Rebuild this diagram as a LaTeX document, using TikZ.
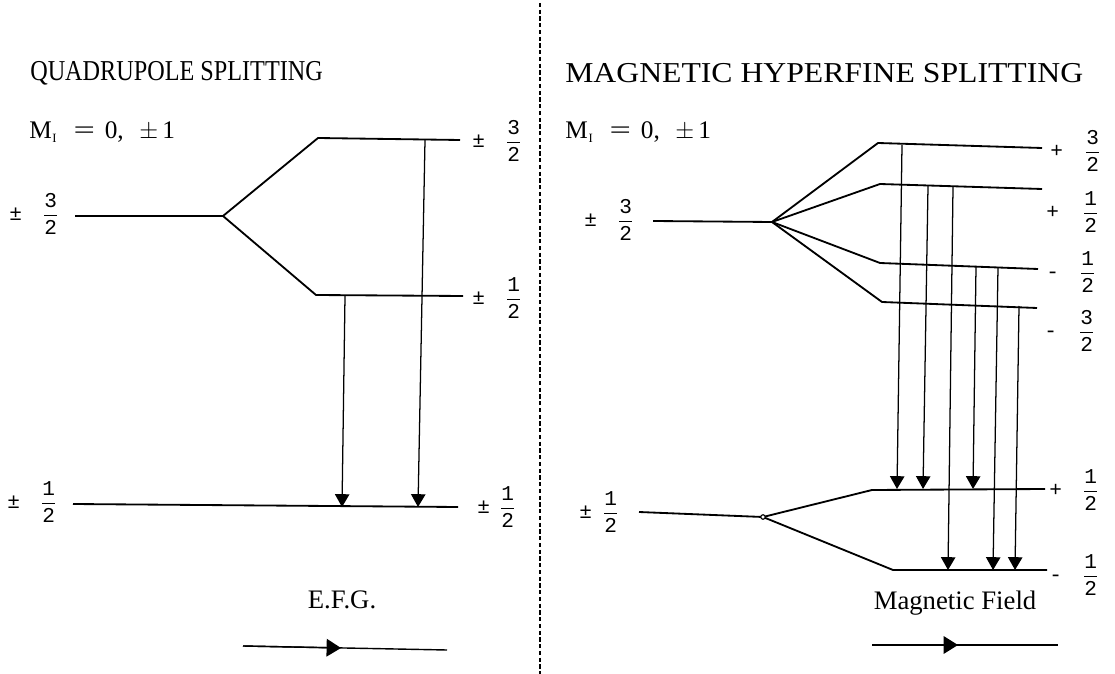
\documentclass[tikz,border=0pt]{standalone}
\usepackage{amsmath}
\usepackage{fontspec}
\setmainfont{Liberation Serif}
\setmonofont{Liberation Mono}
\usetikzlibrary{arrows.meta}
\tikzset{
  level/.style={line width=1.3pt,line join=round},
  trans/.style={line width=.9pt,-{Triangle[length=3.2mm,width=3.6mm]}},
  field/.style={line width=1pt},
  fieldtip/.style={field,-{Triangle[length=3.6mm,width=4.4mm]}},
  spin/.style={inner sep=0pt,anchor=west,font=\ttfamily\fontsize{15}{18}\selectfont},
  heading/.style={inner sep=0pt,anchor=west,font=\fontsize{20.5}{24}\selectfont},
  caption/.style={inner sep=0pt,font=\fontsize{19}{22}\selectfont},
  divider/.style={line width=1pt,dash pattern=on 3pt off 1.8pt}
}
\newcommand{\spinfrac}[2]{$\dfrac{\mbox{\ttfamily #1}}{\mbox{\ttfamily #2}}$}
\newcommand{\spinlabel}[4]{#1\hspace{#2}\spinfrac{#3}{#4}}
\newcommand{\mione}{M\kern.5pt\raisebox{-3pt}{\fontsize{9}{10}\selectfont I}%
  \hspace{12pt}\scalebox{1.5}[1]{=}\hspace{7pt}0,\hspace{11pt}$\pm$\hspace{3pt}1}

\begin{document}
\begin{tikzpicture}[x=0.025cm,y=-0.025cm]
  \useasboundingbox (0,0) rectangle (1115,674);

  % Quadrupole splitting, left half.
  \node[heading] (qtitle) at (30,73) {\scalebox{.84}[1]{QUADRUPOLE SPLITTING}};
  \node[caption,anchor=west,font=\fontsize{18}{21}\selectfont] (qmi) at (29,132) {\mione};

  \coordinate (q32a) at (75,216);
  \coordinate (q32s) at (223,216);
  \coordinate (q32u) at (318,138);
  \coordinate (q32ue) at (460,140);
  \coordinate (q12u) at (316,295);
  \coordinate (q12ue) at (463,296);
  \coordinate (q12a) at (73,504);
  \coordinate (q12e) at (458,507);
  \draw[level] (q32a) -- (q32s) -- (q32u) -- (q32ue);
  \draw[level] (q32s) -- (q12u) -- (q12ue);
  \draw[level] (q12a) -- (q12e);

  \node[spin] (lq32) at (9,214) {\spinlabel{±}{14.7pt}{3}{2}};
  \node[spin] (lq12) at (7,502) {\spinlabel{±}{14.7pt}{1}{2}};
  \node[spin] (rq32) at (472,141) {\spinlabel{±}{14.7pt}{3}{2}};
  \node[spin] (rq12) at (472,298) {\spinlabel{±}{14.7pt}{1}{2}};
  \node[spin] (rq12b) at (477,507) {\spinlabel{±}{6.9pt}{1}{2}};

  \coordinate (qt1a) at (345,296);
  \coordinate (qt1b) at (342,507);
  \coordinate (qt2a) at (425,140);
  \coordinate (qt2b) at (418,507);
  \draw[trans] (qt1a) -- (qt1b);
  \draw[trans] (qt2a) -- (qt2b);

  \node[caption] (efg) at (342,600) {E.F.G.};
  \coordinate (efga) at (243,646);
  \coordinate (efgm) at (341,648);
  \coordinate (efgb) at (447,650);
  \draw[field] (efga) -- (efgb);
  \draw[fieldtip] (efga) -- (efgm);

  % Dashed divider between the two halves.
  \coordinate (divtop) at (540,3);
  \coordinate (divbot) at (540,674);
  \draw[divider] (divtop) -- (divbot);

  % Magnetic hyperfine splitting, right half.
  \node[heading] (mtitle) at (565,73) {\scalebox{1.1}[1]{MAGNETIC HYPERFINE SPLITTING}};
  \node[caption,anchor=west,font=\fontsize{18}{21}\selectfont] (mmi) at (565,132) {\mione};

  \coordinate (m32a) at (653,221);
  \coordinate (m32s) at (772,222);
  \coordinate (mp32) at (878,143);
  \coordinate (mp32e) at (1042,148);
  \coordinate (mp12) at (880,184);
  \coordinate (mp12e) at (1042,189);
  \coordinate (mm12) at (880,263);
  \coordinate (mm12e) at (1038,269);
  \coordinate (mm32) at (882,302);
  \coordinate (mm32e) at (1037,308);
  \draw[level] (m32a) -- (m32s);
  \draw[level] (m32s) -- (mp32) -- (mp32e);
  \draw[level] (m32s) -- (mp12) -- (mp12e);
  \draw[level] (m32s) -- (mm12) -- (mm12e);
  \draw[level] (m32s) -- (mm32) -- (mm32e);

  \coordinate (m12a) at (639,512);
  \coordinate (m12s) at (763,517);
  \coordinate (gp12) at (872,490);
  \coordinate (gp12e) at (1045,489);
  \coordinate (gm12) at (893,570);
  \coordinate (gm12e) at (1047,570);
  \draw[level] (m12a) -- (m12s);
  \draw[level] (m12s) -- (gp12) -- (gp12e);
  \draw[level] (m12s) -- (gm12) -- (gm12e);
  \draw[line width=.8pt,fill=white] (m12s) circle[radius=1.6pt];

  \node[spin] (lm32) at (584,220) {\spinlabel{±}{14.7pt}{3}{2}};
  \node[spin] (lm12) at (579,512) {\spinlabel{±}{7.6pt}{1}{2}};
  \node[spin] (rmp32) at (1050,151) {\spinlabel{+}{15.4pt}{3}{2}};
  \node[spin] (rmp12) at (1046,212) {\spinlabel{+}{16.8pt}{1}{2}};
  \node[spin] (rmm12) at (1046,272) {\spinlabel{-}{14.7pt}{1}{2}};
  \node[spin] (rmm32) at (1044,331) {\spinlabel{-}{15.4pt}{3}{2}};
  \node[spin] (rgp12) at (1049,490) {\spinlabel{+}{14.7pt}{1}{2}};
  \node[spin] (rgm12) at (1049,575) {\spinlabel{-}{14.7pt}{1}{2}};

  \coordinate (t1a) at (902,145);
  \coordinate (t1b) at (897,489);
  \coordinate (t2a) at (928,186);
  \coordinate (t2b) at (923,489);
  \coordinate (t3a) at (953,187);
  \coordinate (t3b) at (948,570);
  \coordinate (t4a) at (976,266);
  \coordinate (t4b) at (973,489);
  \coordinate (t5a) at (998,267);
  \coordinate (t5b) at (993,570);
  \coordinate (t6a) at (1019,306);
  \coordinate (t6b) at (1015,570);
  \foreach \i in {1,...,6}
    \draw[trans] (t\i a) -- (t\i b);

  \node[caption] (mfield) at (955,603) {Magnetic Field};
  \coordinate (mfa) at (872,645);
  \coordinate (mfm) at (958,645);
  \coordinate (mfb) at (1058,645);
  \draw[field] (mfa) -- (mfb);
  \draw[fieldtip] (mfa) -- (mfm);
\end{tikzpicture}
\end{document}
